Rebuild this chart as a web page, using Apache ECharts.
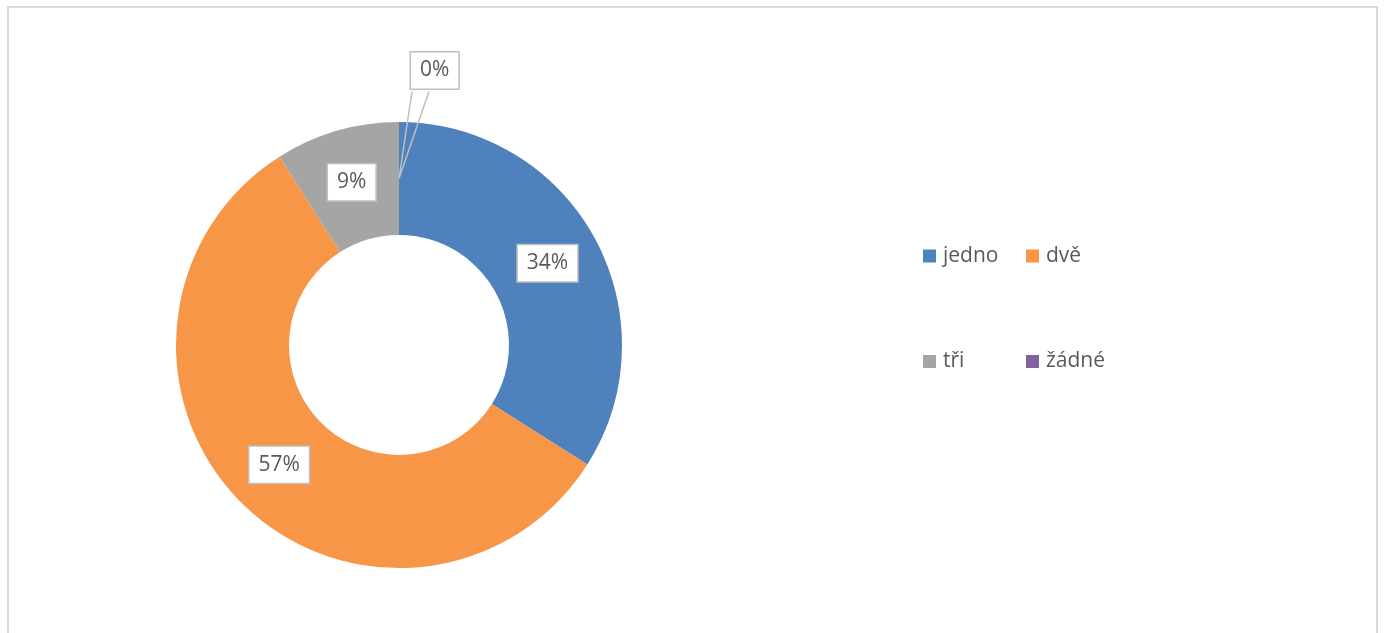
<!DOCTYPE html>
<html>
<head>
<meta charset="utf-8">
<script src="https://cdn.jsdelivr.net/npm/echarts@6/dist/echarts.min.js"></script>
<style>
  html, body { margin: 0; padding: 0; background: #fff; }
  #wrap { position: relative; width: 1384px; height: 633px; overflow: hidden; }
  #chart { position: absolute; left: 0; top: 0; width: 1384px; height: 633px; }
  #frame {
    position: absolute; left: 7px; top: 6px; width: 1367px; height: 700px;
    border: 2px solid #d9d9d9; pointer-events: none;
  }
</style>
</head>
<body>
<div id="wrap">
  <div id="chart"></div>
  <div id="frame"></div>
</div>
<script>
// Počet odpovědí podle kategorie (podíly v %)
const categories = ['jedno', 'dvě', 'tři', 'žádné'];
const shares = [34, 57, 9, 0];
const legendLeftColumn = ['jedno', 'tři'];
const legendRightColumn = ['dvě', 'žádné'];

const palette = ['#4f81bd', '#f79646', '#a5a5a5', '#8064a2'];
const TEXT = '#595959';
const FONT = '"Open Sans", "Liberation Sans", sans-serif';
const CENTER = [399, 345];
const RADII = [110, 223];

const chart = echarts.init(document.getElementById('chart'), null, { renderer: 'canvas' });

const labelBox = {
  color: TEXT,
  fontFamily: FONT,
  fontSize: 21,
  lineHeight: 24,
  backgroundColor: '#ffffff',
  borderColor: '#bfbfbf',
  borderWidth: 1.5,
  padding: [6, 9],
  formatter: p => Math.round(p.percent) + '%'
};

const legendBase = {
  orient: 'vertical',
  icon: 'rect',
  itemWidth: 13,
  itemHeight: 13,
  itemGap: 81.5,
  padding: 0,
  selectedMode: false,
  top: 244,
  textStyle: { color: TEXT, fontFamily: FONT, fontSize: 21, lineHeight: 24, padding: [0, 0, 0, 2] }
};

// callout for an empty slice: box above the ring, tail pointing to mid-ring
function calloutLayout(params) {
  if (shares[params.dataIndex] !== 0) return {};
  const tipX = CENTER[0];
  const tipY = CENTER[1] - (RADII[0] + RADII[1]) / 2;
  const x = tipX + 12;
  const y = tipY - 126;
  const h = params.labelRect.height;
  return {
    x: x,
    y: y,
    align: 'left',
    verticalAlign: 'top',
    labelLinePoints: [[x + 1, y + h], [tipX, tipY], [x + 18, y + h]]
  };
}

const sliceData = categories.map((name, i) => ({ name: name, value: shares[i] }));

chart.setOption({
  animation: false,
  color: palette,
  legend: [
    Object.assign({}, legendBase, { left: 923, data: legendLeftColumn }),
    Object.assign({}, legendBase, { left: 1026, data: legendRightColumn })
  ],
  series: [
    {
      // the ring with in-slice percentage boxes
      type: 'pie',
      z: 2,
      center: CENTER,
      radius: RADII,
      startAngle: 90,
      clockwise: true,
      avoidLabelOverlap: false,
      silent: true,
      itemStyle: { borderWidth: 0 },
      label: Object.assign({ show: true, position: 'inside' }, labelBox),
      labelLine: { show: false },
      data: sliceData.map(d => shares[categories.indexOf(d.name)] === 0
        ? Object.assign({}, d, { label: { show: false } })
        : d)
    },
    {
      // transparent twin of the ring, carrying the callout of empty slices on top
      type: 'pie',
      z: 3,
      center: CENTER,
      radius: RADII,
      startAngle: 90,
      clockwise: true,
      avoidLabelOverlap: false,
      silent: true,
      legendHoverLink: false,
      itemStyle: { color: 'rgba(0,0,0,0)', borderWidth: 0 },
      label: Object.assign({ show: false, position: 'outside' }, labelBox),
      labelLine: { show: false, showAbove: true, lineStyle: { color: '#bfbfbf', width: 1.5 } },
      data: sliceData.map(d => shares[categories.indexOf(d.name)] === 0
        ? Object.assign({}, d, { label: { show: true }, labelLine: { show: true } })
        : d),
      labelLayout: calloutLayout
    }
  ]
});
</script>
</body>
</html>
